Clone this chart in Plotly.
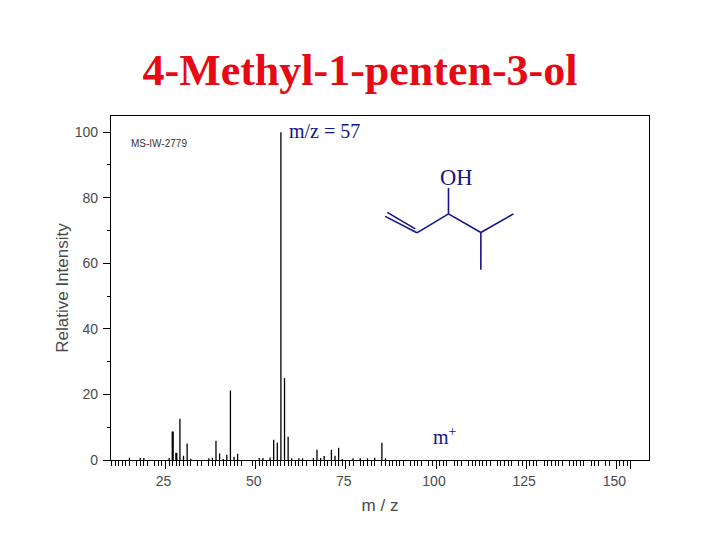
import plotly.graph_objects as go

mz = [15, 18, 19, 26, 29, 30, 31, 32, 37, 38, 39, 40, 41, 42, 43, 44, 45, 51, 52, 54, 55, 56, 57, 58, 59, 60, 62, 63,
      66, 67, 68, 69, 71, 72, 73, 74, 77, 79, 81, 83, 85, 86]
intensity = [0.7, 0.7, 0.6, 0.6, 12.6, 1.3, 5.0, 0.4, 0.5, 0.7, 5.9, 2.0, 0.3, 1.6, 21.2, 1.0, 1.9, 0.6, 0.6, 0.8, 6.2,
             5.3, 100, 25, 7.1, 0.5, 0.5, 0.5, 0.6, 3.1, 0.6, 1.2, 3.1, 1.3, 3.7, 0.3, 0.5, 0.5, 0.5, 0.7, 5.3, 0.5]
thick_mz = [27, 28]
thick_intensity = [8.7, 2.2]

x_tick_vals = [25, 50, 75, 100, 125, 150, 154]
x_tick_text = ["25", "50", "75", "100", "125", "150", " "]
x_minor_missing = [16, 21, 33, 36, 47, 48, 65, 78, 84, 92, 97, 104, 108, 116, 122, 129, 136, 142, 146, 149]
x_minor_vals = [v for v in range(10, 154) if v not in x_minor_missing and v not in x_tick_vals]
y_tick_vals = [0, 20, 40, 60, 80, 100]
y_minor_vals = [10, 30, 50, 70, 90]

W, H = 720, 540
L, R, T, B = 110.5, 649.0, 116.0, 460.5
NAVY = "#14148c"
GREY = "#4a4a4a"

def sticks(xs, ys):
    ox, oy = [], []
    for a, b in zip(xs, ys):
        ox += [a, a, None]
        oy += [0, b, None]
    return ox, oy

fig = go.Figure()
sx, sy = sticks(mz, intensity)
fig.add_trace(go.Scatter(x=sx, y=sy, mode="lines", line=dict(color="#000", width=1.3), showlegend=False, hoverinfo="skip"))
tx, ty = sticks(thick_mz, thick_intensity)
fig.add_trace(go.Scatter(x=tx, y=ty, mode="lines", line=dict(color="#000", width=2.2), showlegend=False, hoverinfo="skip"))

bonds = [
    (385, 216.5, 416.7, 233), (387, 212.5, 415, 229), (416.7, 233, 448.3, 214),
    (448.3, 214, 448.3, 188), (448.3, 214, 480.7, 232.7), (480.7, 232.7, 513.3, 214),
    (480.7, 232.7, 480.7, 270),
]
shapes = [dict(type="line", xref="paper", yref="paper", x0=(a - L) / (R - L), x1=(c - L) / (R - L),
               y0=(B - b) / (B - T), y1=(B - d) / (B - T), line=dict(color=NAVY, width=1.6)) for a, b, c, d in bonds]

def note(text, x, y, size, color=NAVY, family="Liberation Serif", anchor="left"):
    return dict(text=text, xref="paper", yref="paper", x=(x - L) / (R - L), y=(B - y) / (B - T),
                xanchor=anchor, yanchor="middle", showarrow=False, font=dict(family=family, size=size, color=color))

annotations = [
    note("m/z = 57", 286.5, 131, 20),
    note("m<sup>+</sup>", 430.5, 436, 20),
    note("OH", 437.5, 178, 22.5),
    note("MS-IW-2779", 129, 144, 10, color="#333333", family="Liberation Sans"),
]

fig.update_layout(
    width=W, height=H, autosize=False,
    paper_bgcolor="#fff", plot_bgcolor="#fff",
    margin=dict(l=L, r=W - R, t=T, b=H - B, pad=0),
    title=dict(text="<b>4-Methyl-1-penten-3-ol</b>", x=0.5, xanchor="center", xref="container",
               y=1 - 69.5 / H, yanchor="middle", font=dict(family="Liberation Serif", size=44, color="#e60a14")),
    xaxis=dict(range=[(L - 74.8) / 3.61, (R - 74.8) / 3.61], showgrid=False, zeroline=False, showline=True, mirror=True,
               linecolor="#000", linewidth=1.4, ticks="outside", ticklen=8, tickwidth=1, tickcolor="#000",
               tickvals=x_tick_vals, ticktext=x_tick_text, ticklabelshift=-2, tickangle=0,
               tickfont=dict(family="Liberation Sans", size=14, color=GREY),
               minor=dict(tickvals=x_minor_vals, ticks="outside", ticklen=5, tickwidth=1, tickcolor="#000"),
               title=dict(text="m / z", standoff=11, font=dict(family="Liberation Sans", size=17, color=GREY))),
    yaxis=dict(range=[0, (B - T) / 3.283], showgrid=False, zeroline=False, showline=True, mirror=True,
               linecolor="#000", linewidth=1.4, ticks="outside", ticklen=7, tickwidth=1, tickcolor="#000",
               tickvals=y_tick_vals, ticklabelstandoff=2, tickfont=dict(family="Liberation Sans", size=14, color=GREY),
               minor=dict(tickvals=y_minor_vals, ticks="outside", ticklen=3, tickwidth=1, tickcolor="#000"),
               title=dict(text="Relative Intensity", standoff=1, font=dict(family="Liberation Sans", size=17, color=GREY))),
    shapes=shapes, annotations=annotations,
)
fig.write_html("out.html", config={"displayModeBar": False}, post_script="document.body.style.margin='0';")
